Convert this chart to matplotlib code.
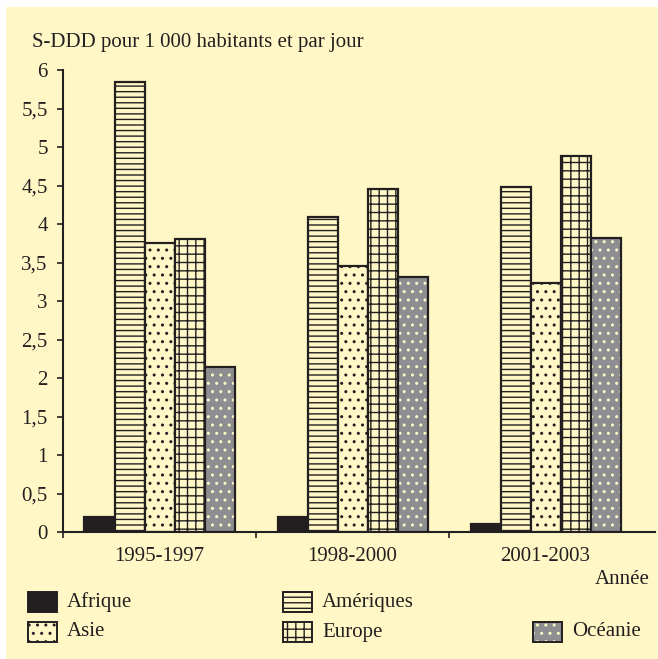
import matplotlib
matplotlib.use("Agg")
import matplotlib.pyplot as plt
from matplotlib.patches import Rectangle
import numpy as np

plt.rcParams['font.family'] = ['Liberation Serif', 'DejaVu Serif']
plt.rcParams['hatch.linewidth'] = 1.0

# data
periods = ['1995-1997', '1998-2000', '2001-2003']
regions = ['Afrique', 'Amériques', 'Asie', 'Europe', 'Océanie']
afrique = [0.19, 0.19, 0.10]
ameriques = [5.84, 4.09, 4.48]
asie = [3.75, 3.45, 3.23]
europe = [3.81, 4.45, 4.88]
oceanie = [2.14, 3.31, 3.82]
yticks = [0, 0.5, 1, 1.5, 2, 2.5, 3, 3.5, 4, 4.5, 5, 5.5, 6]

dark = '#231F20'
bg = '#FFF8C6'
gray = '#8E8E92'
fs = 15

# fill, hatch, hatch colour per region
styles = {
    'Afrique': (dark, None, dark),
    'Amériques': (bg, '---', dark),
    'Asie': (bg, '..', dark),
    'Europe': (bg, '++', dark),
    'Océanie': (gray, '..', bg),
}

W, H = 658, 659
fig = plt.figure(figsize=(W / 100, H / 100), dpi=100, facecolor='white')
fig.add_artist(Rectangle((6 / W, 0), 1, 1 - 7 / H, transform=fig.transFigure,
                         facecolor=bg, edgecolor='none', zorder=-10))

ax = fig.add_axes([63 / W, (H - 532) / H, (655 - 63) / W, (532 - 70) / H])
ax.set_facecolor('none')

x = np.arange(len(periods))
w = 30 / 193
series = [afrique, ameriques, asie, europe, oceanie]
for k, (name, vals) in enumerate(zip(regions, series)):
    fc, hatch, hc = styles[name]
    pos = x + (k - 2) * w
    ax.bar(pos, vals, width=w, color=fc, edgecolor=hc, hatch=hatch, linewidth=0)
    ax.bar(pos, vals, width=w, fill=False, edgecolor=dark, linewidth=1.6)

ax.set_xlim(-0.5, 2.5 + 13 / 193)
ax.set_ylim(0, 6)
ax.set_yticks(yticks)
ax.set_yticklabels([f'{v:g}'.replace('.', ',') for v in yticks])
ax.set_xticks([-0.5, 0.5, 1.5])
ax.set_xticklabels([])
for i, p in enumerate(periods):
    ax.text(i, -0.19, p, ha='center', va='top', fontsize=fs, color=dark)

for s in ['top', 'right']:
    ax.spines[s].set_visible(False)
for s in ['left', 'bottom']:
    ax.spines[s].set_color(dark)
    ax.spines[s].set_linewidth(1.5)
ax.tick_params(axis='both', direction='out', length=4, width=1.2, color=dark,
               labelsize=fs, labelcolor=dark)
ax.tick_params(axis='y', pad=7)

fig.text(32 / W, 1 - 43 / H, 'S-DDD pour 1 000 habitants et par jour',
         ha='left', va='center', fontsize=fs, color=dark)
fig.text(650 / W, 1 - 579 / H, 'Année', ha='right', va='center', fontsize=fs, color=dark)

# legend
legend_pos = {
    'Afrique': (28, 602), 'Amériques': (283, 602),
    'Asie': (28, 632), 'Europe': (283, 632), 'Océanie': (533, 632),
}
for name in regions:
    lx, ly = legend_pos[name]
    fc, hatch, hc = styles[name]
    fig.add_artist(Rectangle((lx / W, 1 - (ly + 10) / H), 29 / W, 20 / H,
                             transform=fig.transFigure, facecolor=fc,
                             edgecolor=hc, hatch=hatch, linewidth=0))
    fig.add_artist(Rectangle((lx / W, 1 - (ly + 10) / H), 29 / W, 20 / H,
                             transform=fig.transFigure, fill=False,
                             edgecolor=dark, linewidth=1.4))
    fig.text((lx + 39) / W, 1 - ly / H, name, ha='left', va='center',
             fontsize=fs, color=dark)

fig.savefig('out.png', dpi=100, facecolor=fig.get_facecolor())
